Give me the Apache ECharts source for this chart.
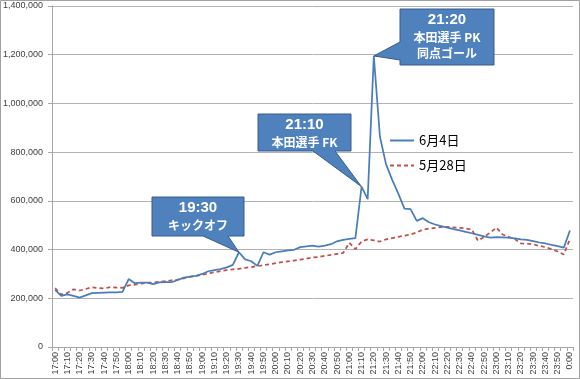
<!DOCTYPE html>
<html>
<head>
<meta charset="utf-8">
<script src="https://cdn.jsdelivr.net/npm/echarts@6/dist/echarts.min.js"></script>
<style>
html,body{margin:0;padding:0;background:#fff;}
#c{width:580px;height:379px;}
</style>
</head>
<body>
<div id="c"></div>
<script>
const times = ["17:00","17:05","17:10","17:15","17:20","17:25","17:30","17:35","17:40","17:45",
"17:50","17:55","18:00","18:05","18:10","18:15","18:20","18:25","18:30","18:35",
"18:40","18:45","18:50","18:55","19:00","19:05","19:10","19:15","19:20","19:25",
"19:30","19:35","19:40","19:45","19:50","19:55","20:00","20:05","20:10","20:15",
"20:20","20:25","20:30","20:35","20:40","20:45","20:50","20:55","21:00","21:05",
"21:10","21:15","21:20","21:25","21:30","21:35","21:40","21:45","21:50","21:55",
"22:00","22:05","22:10","22:15","22:20","22:25","22:30","22:35","22:40","22:45",
"22:50","22:55","23:00","23:05","23:10","23:15","23:20","23:25","23:30","23:35",
"23:40","23:45","23:50","23:55","0:00"];

const june4 = [235000,210000,216000,210000,203000,212000,221000,222000,223000,224000,
224000,226000,279000,262000,264000,264000,258000,265000,266000,266000,
275000,285000,289000,292000,300000,311000,316000,320000,327000,337000,
389000,360000,352000,333000,389000,379000,389000,393000,397000,399000,
410000,413000,416000,412000,416000,422000,434000,440000,444000,447000,
658000,607000,1195000,863000,750000,686000,630000,568000,566000,518000,
529000,512000,503000,496000,490000,484000,479000,473000,467000,460000,
454000,449000,451000,450000,449000,446000,442000,440000,435000,429000,
425000,419000,414000,408000,478000];

const may28 = [242000,215000,222000,237000,232000,238000,245000,242000,240000,246000,
244000,243000,253000,256000,260000,264000,265000,268000,270000,274000,
277000,282000,288000,292000,296000,302000,307000,312000,316000,319000,
321000,325000,328000,332000,336000,340000,344000,348000,352000,355000,
359000,363000,367000,370000,374000,378000,382000,386000,428000,402000,
433000,442000,438000,433000,442000,447000,452000,457000,462000,470000,
482000,486000,489000,492000,493000,491000,489000,487000,482000,436000,
452000,470000,490000,462000,452000,443000,425000,424000,422000,415000,
410000,402000,392000,380000,443000];

const seriesNames = ["6月4日","5月28日"];
const yTicks = {min:0, max:1400000, interval:200000};

const callouts = [
  {time:"19:30", lines:["19:30","キックオフ"]},
  {time:"21:10", lines:["21:10","本田選手 FK"]},
  {time:"21:20", lines:["21:20","本田選手 PK","同点ゴール"]}
];

const chart = echarts.init(document.getElementById('c'), null, {renderer:'canvas'});
const axisGrey = '#a6a6a6';
const option = {
  animation:false,
  backgroundColor:'#fff',
  grid:{left:50, right:7, top:6, bottom:32},
  xAxis:{
    type:'category', data:times, boundaryGap:true,
    axisLine:{lineStyle:{color:axisGrey}},
    axisTick:{show:true, interval:0, length:4, lineStyle:{color:axisGrey}},
    axisLabel:{interval:1, rotate:90, fontSize:9, color:'#404040', margin:5, fontFamily:'Liberation Sans'},
    splitLine:{show:false}
  },
  yAxis:{
    type:'value', min:yTicks.min, max:yTicks.max, interval:yTicks.interval,
    axisLine:{show:true, lineStyle:{color:axisGrey}},
    axisTick:{show:true, length:4, lineStyle:{color:axisGrey}},
    axisLabel:{formatter:v=>v.toLocaleString('en-US'), fontSize:9, color:'#404040', margin:9, fontFamily:'Liberation Sans'},
    splitLine:{lineStyle:{color:'#b3b3b3', width:1}}
  },
  legend:{
    orient:'vertical', left:384, top:129, itemWidth:24, itemHeight:12, itemGap:12,
    itemStyle:{color:'rgba(0,0,0,0)', borderColor:'rgba(0,0,0,0)', borderWidth:0, opacity:0},
    textStyle:{fontSize:13, color:'#000', fontFamily:'Noto Sans CJK JP'},
    data:seriesNames
  },
  series:[
    {name:seriesNames[0], type:'line', data:june4, symbol:'none', showSymbol:false,
     lineStyle:{color:'#4a7ebb', width:1.75}, itemStyle:{color:'#4a7ebb'}, z:3},
    {name:seriesNames[1], type:'line', data:may28, symbol:'none', showSymbol:false,
     lineStyle:{color:'#c0504d', width:1.75, type:[4,3]}, itemStyle:{color:'#c0504d'}, z:2}
  ]
};
chart.setOption(option);

function tipOf(t){
  const i = times.indexOf(t);
  return chart.convertToPixel({xAxisIndex:0, yAxisIndex:0}, [i, june4[i]]);
}

// box layouts (pixels) for each callout
const boxes = [
  {x0:152, y0:197, x1:244, y1:236, side:'bottom', b0:203, b1:228, ty:[208,225]},
  {x0:258, y0:114, x1:351, y1:151, side:'bottom', b0:313, b1:335, ty:[125,142]},
  {x0:400, y0:9,   x1:494, y1:65,  side:'left',   b0:42,  b1:60,  ty:[20,37,53]}
];

const graphics = [];
callouts.forEach((c, k) => {
  const b = boxes[k];
  const tip = tipOf(c.time);
  let pts;
  if (b.side === 'bottom') {
    pts = [[b.x0,b.y0],[b.x1,b.y0],[b.x1,b.y1],[b.b1,b.y1],[tip[0],tip[1]],[b.b0,b.y1],[b.x0,b.y1]];
  } else {
    pts = [[b.x0,b.y0],[b.x1,b.y0],[b.x1,b.y1],[b.x0,b.y1],[b.x0,b.b1],[tip[0],tip[1]],[b.x0,b.b0]];
  }
  graphics.push({type:'polygon', shape:{points:pts}, style:{fill:'#4f81bd', stroke:'#385d8a', lineWidth:1}, z:10});
  const cx = (b.x0 + b.x1)/2;
  c.lines.forEach((ln, j) => {
    graphics.push({type:'text', x:cx, y:b.ty[j], z:11,
      style:{text:ln, fill:'#fff', font: (j===0 ? 'bold 15px "Liberation Sans"' : 'bold 12px "Noto Sans CJK JP"'),
             align:'center', verticalAlign:'middle'}});
  });
});
graphics.push({type:'rect', shape:{x:0.5, y:0.5, width:579, height:378}, style:{fill:'none', stroke:'#a0a0a0', lineWidth:1}, z:20, silent:true});
chart.setOption({graphic:graphics});
</script>
</body>
</html>
